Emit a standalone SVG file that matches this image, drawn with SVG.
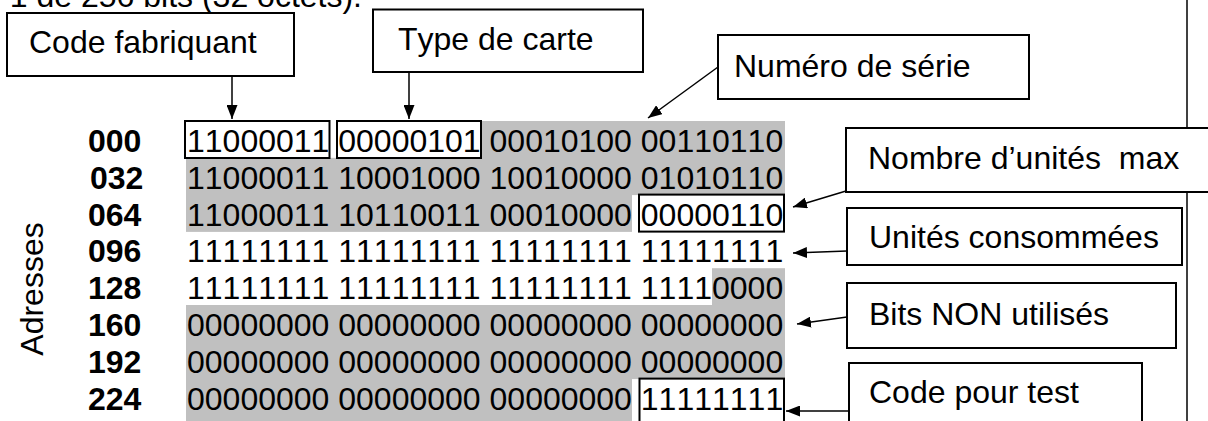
<svg xmlns="http://www.w3.org/2000/svg" width="1208" height="421" viewBox="0 0 1208 421">
<style>
text{font-family:"Liberation Sans",Arial,sans-serif;font-size:32px;fill:#000;font-kerning:none;font-feature-settings:"kern" 0}
.addr{font-weight:bold}
.box{fill:#fff;stroke:#000;stroke-width:2}
.hl{fill:none;stroke:#000;stroke-width:2}
.gray{fill:#c0c0c0}
.conn line{stroke:#000;stroke-width:1.5;marker-end:url(#ah)}
</style>
<defs>
<marker id="ah" viewBox="0 0 14 11" refX="14" refY="5.5" markerWidth="14" markerHeight="11" orient="auto" markerUnits="userSpaceOnUse">
<path d="M0,0 L14,5.5 L0,11 z" fill="#000"/>
</marker>
</defs>
<rect width="1208" height="421" fill="#fff"/>
<text x="362" y="7" text-anchor="end">1 de 256 bits (32 octets).</text>
<line x1="1187" y1="0" x2="1187" y2="421" stroke="#000" stroke-width="1.5"/>

<g id="memory">
<g id="gray-bands">
<rect class="gray" x="481" y="121" width="304" height="37.3"/>
<rect class="gray" x="186" y="157.8" width="599" height="37.3"/>
<rect class="gray" x="186" y="194.6" width="446" height="37.3"/>
<rect class="gray" x="712" y="268.2" width="73" height="37.3"/>
<rect class="gray" x="186" y="305" width="599" height="37.3"/>
<rect class="gray" x="186" y="341.8" width="599" height="37.3"/>
<rect class="gray" x="186" y="378.6" width="446" height="43"/>
</g>
<g id="addresses">
<text class="addr" x="88" y="152">000</text>
<text class="addr" x="90" y="188.8">032</text>
<text class="addr" x="88" y="225.6">064</text>
<text class="addr" x="88" y="262.4">096</text>
<text class="addr" x="88" y="299.2">128</text>
<text class="addr" x="88" y="336">160</text>
<text class="addr" x="88" y="372.8">192</text>
<text class="addr" x="88" y="409.6">224</text>
</g>
<g id="data">
<text x="187" y="152">11000011 00000101 00010100 00110110</text>
<text x="187" y="188.8">11000011 10001000 10010000 01010110</text>
<text x="187" y="225.6">11000011 10110011 00010000 00000110</text>
<text x="187" y="262.4">11111111 11111111 11111111 11111111</text>
<text x="187" y="299.2">11111111 11111111 11111111 11110000</text>
<text x="187" y="336">00000000 00000000 00000000 00000000</text>
<text x="187" y="372.8">00000000 00000000 00000000 00000000</text>
<text x="187" y="409.6">00000000 00000000 00000000 11111111</text>
</g>
<g id="highlights">
<rect class="hl" x="185" y="121" width="144.5" height="37"/>
<rect class="hl" x="337" y="121" width="144" height="37"/>
<rect class="hl" x="639" y="194.6" width="145" height="37"/>
<rect class="hl" x="639.5" y="378.6" width="144.5" height="50"/>
</g>
<text transform="translate(43,289) rotate(-90)" text-anchor="middle">Adresses</text>
</g>

<g id="connectors" class="conn">
<line x1="232" y1="76" x2="232" y2="119"/>
<line x1="409" y1="72" x2="409" y2="119"/>
<line x1="718" y1="67" x2="648" y2="118"/>
<line x1="846" y1="191" x2="793" y2="207"/>
<line x1="847" y1="251" x2="793" y2="253"/>
<line x1="847" y1="317" x2="797" y2="324"/>
<line x1="849" y1="411" x2="786" y2="411"/>
</g>

<g id="code-fabriquant">
<rect class="box" x="7" y="13" width="287" height="63"/>
<text x="29" y="53">Code fabriquant</text>
</g>
<g id="type-carte">
<rect class="box" x="373" y="9.5" width="270" height="62.5"/>
<text x="398" y="50">Type de carte</text>
</g>
<g id="numero-serie">
<rect class="box" x="718" y="35" width="311" height="64"/>
<text x="734" y="77">Numéro de série</text>
</g>
<g id="nombre-unites">
<rect class="box" x="846" y="128" width="380" height="64"/>
<text x="868" y="169" xml:space="preserve" style="white-space:pre">Nombre d’unités  max</text>
</g>
<g id="unites-consommees">
<rect class="box" x="847" y="208" width="335" height="57"/>
<text x="869" y="248">Unités consommées</text>
</g>
<g id="bits-non-utilises">
<rect class="box" x="847" y="283" width="329" height="65"/>
<text x="869" y="325">Bits NON utilisés</text>
</g>
<g id="code-test">
<rect class="box" x="849" y="363" width="293" height="70"/>
<text x="869" y="403">Code pour test</text>
</g>
</svg>
